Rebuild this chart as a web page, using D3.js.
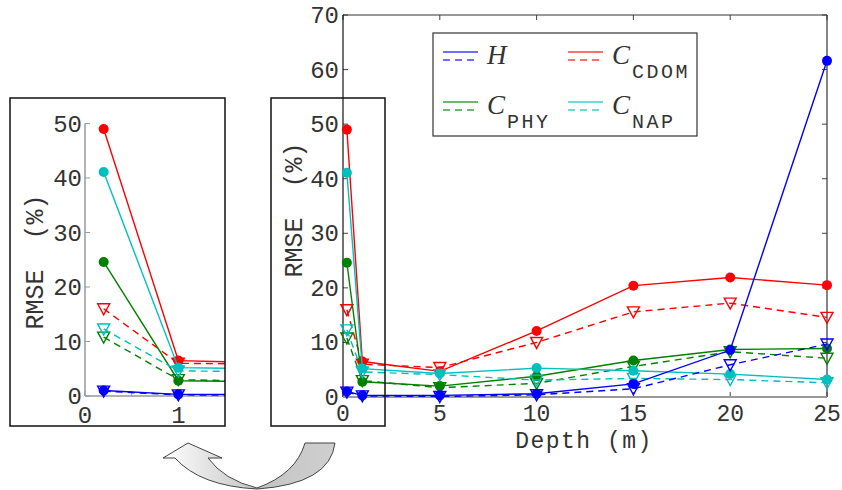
<!DOCTYPE html>
<html>
<head>
<meta charset="utf-8">
<script src="https://cdn.jsdelivr.net/npm/d3@7"></script>
<style>
  body { margin: 0; background: #fff; }
  svg { display: block; }
  text { font-family: "Liberation Mono", "DejaVu Sans Mono", monospace; fill: #333; }
</style>
</head>
<body>
<svg id="chart" width="842" height="490"></svg>
<script>
// depths (m)
const depths = [0.2, 1, 5, 10, 15, 20, 25];

// RMSE (%) per parameter, solid = filled circles, dashed = open triangles
const hSolid = [1.0, 0.3, 0.3, 0.6, 2.4, 8.6, 61.6];
const hDashed = [0.9, 0.2, 0.1, 0.4, 1.5, 5.9, 9.7];
const cdomSolid = [49.0, 6.5, 4.7, 12.1, 20.4, 21.9, 20.5];
const cdomDashed = [16.0, 6.0, 5.4, 10.0, 15.6, 17.2, 14.6];
const phySolid = [24.6, 2.8, 2.0, 3.8, 6.7, 8.7, 8.9];
const phyDashed = [10.8, 3.0, 1.7, 2.5, 5.6, 8.3, 7.1];
const napSolid = [41.1, 5.2, 4.3, 5.3, 4.8, 4.2, 3.2];
const napDashed = [12.3, 4.6, 4.1, 3.1, 3.4, 3.2, 2.6];

const xTicks = [0, 5, 10, 15, 20, 25];
const yTicks = [0, 10, 20, 30, 40, 50, 60, 70];
const insetYTicks = [0, 10, 20, 30, 40, 50];
const insetXTicks = [0, 0.5, 1];

const colors = { H: "#0000ff", CDOM: "#ff0000", PHY: "#008000", NAP: "#00bfbf" };

// drawing order: red, green, cyan, blue on top
const series = [
  { key: "CDOM", solid: cdomSolid, dashed: cdomDashed },
  { key: "PHY", solid: phySolid, dashed: phyDashed },
  { key: "NAP", solid: napSolid, dashed: napDashed },
  { key: "H", solid: hSolid, dashed: hDashed }
];

const svg = d3.select("#chart");

// gradient for the curved arrow
const defs = svg.append("defs");
const grad = defs.append("linearGradient").attr("id", "arrowGrad")
  .attr("x1", "0%").attr("x2", "100%").attr("y1", "0%").attr("y2", "0%");
grad.append("stop").attr("offset", "0%").attr("stop-color", "#ffffff");
grad.append("stop").attr("offset", "55%").attr("stop-color", "#c4c4c4");
grad.append("stop").attr("offset", "100%").attr("stop-color", "#cfcfcf");

const triPath = "M-6,-5L6,-5L0,6Z";

function drawSeries(g, x, y) {
  series.forEach(s => {
    const col = colors[s.key];
    const line = d3.line().x((d, i) => x(depths[i])).y(d => y(d));
    g.append("path").datum(s.dashed)
      .attr("d", line).attr("fill", "none").attr("stroke", col)
      .attr("stroke-width", 1.4).attr("stroke-dasharray", "7,5");
    g.append("path").datum(s.solid)
      .attr("d", line).attr("fill", "none").attr("stroke", col)
      .attr("stroke-width", 1.4);
    g.selectAll(null).data(s.dashed).enter().append("path")
      .attr("d", triPath)
      .attr("transform", (d, i) => `translate(${x(depths[i])},${y(d)})`)
      .attr("fill", "none").attr("stroke", col).attr("stroke-width", 1.4);
    g.selectAll(null).data(s.solid).enter().append("circle")
      .attr("cx", (d, i) => x(depths[i])).attr("cy", d => y(d))
      .attr("r", 5).attr("fill", col);
  });
}

// ---------- main axes ----------
const x = d3.scaleLinear().domain([0, 25]).range([343, 827]);
const y = d3.scaleLinear().domain([0, 70]).range([397, 15]);

const main = svg.append("g");
// tick marks (inward) on all four sides
main.selectAll(".tb").data(xTicks).enter().append("line")
  .attr("x1", d => x(d)).attr("x2", d => x(d)).attr("y1", y(0)).attr("y2", y(0) - 5)
  .attr("stroke", "#444");
main.selectAll(".tt").data(xTicks).enter().append("line")
  .attr("x1", d => x(d)).attr("x2", d => x(d)).attr("y1", y(70)).attr("y2", y(70) + 5)
  .attr("stroke", "#444");
main.selectAll(".tl").data(yTicks).enter().append("line")
  .attr("x1", x(0)).attr("x2", x(0) + 5).attr("y1", d => y(d)).attr("y2", d => y(d))
  .attr("stroke", "#444");
main.selectAll(".tr").data(yTicks).enter().append("line")
  .attr("x1", x(25)).attr("x2", x(25) - 5).attr("y1", d => y(d)).attr("y2", d => y(d))
  .attr("stroke", "#444");

main.append("line").attr("x1", x(0)).attr("x2", x(25)).attr("y1", y(70)).attr("y2", y(70))
  .attr("stroke", "#333").attr("stroke-width", 1.2);
main.append("line").attr("x1", x(25)).attr("x2", x(25)).attr("y1", y(70)).attr("y2", y(0))
  .attr("stroke", "#333").attr("stroke-width", 1.2);
main.append("line").attr("x1", x(0)).attr("x2", x(0)).attr("y1", y(70)).attr("y2", y(0))
  .attr("stroke", "#111").attr("stroke-width", 1.2);
main.append("line").attr("x1", x(0)).attr("x2", x(25)).attr("y1", y(0)).attr("y2", y(0))
  .attr("stroke", "#999").attr("stroke-width", 2);

main.selectAll(".yl").data(yTicks).enter().append("text")
  .attr("x", x(0) - 4).attr("y", d => y(d) + 8)
  .attr("text-anchor", "end").attr("font-size", 24).text(d => d);
main.selectAll(".xl").data(xTicks).enter().append("text")
  .attr("x", d => x(d)).attr("y", y(0) + 24)
  .attr("text-anchor", "middle").attr("font-size", 23).text(d => d);

main.append("text").attr("x", 584).attr("y", 448).attr("text-anchor", "middle")
  .attr("font-size", 23).attr("letter-spacing", 1.5).text("Depth (m)");
main.append("text").attr("transform", "translate(302,210) rotate(-90)")
  .attr("text-anchor", "middle").attr("font-size", 25).attr("xml:space", "preserve")
  .text("RMSE  (%)");

drawSeries(main.append("g"), x, y);

// ---------- legend ----------
const leg = svg.append("g");
leg.append("rect").attr("x", 433).attr("y", 33).attr("width", 264).attr("height", 103)
  .attr("fill", "#fff").attr("stroke", "#333").attr("stroke-width", 1.2);
const legItems = [
  { key: "H", lx: 443, ly: 52, sub: "" },
  { key: "CDOM", lx: 568, ly: 52, sub: "CDOM" },
  { key: "PHY", lx: 443, ly: 102, sub: "PHY" },
  { key: "NAP", lx: 568, ly: 102, sub: "NAP" }
];
legItems.forEach(it => {
  leg.append("line").attr("x1", it.lx).attr("x2", it.lx + 35).attr("y1", it.ly).attr("y2", it.ly)
    .attr("stroke", colors[it.key]).attr("stroke-width", 1.6).attr("opacity", 0.75);
  leg.append("line").attr("x1", it.lx).attr("x2", it.lx + 35).attr("y1", it.ly + 8).attr("y2", it.ly + 8)
    .attr("stroke", colors[it.key]).attr("stroke-width", 1.6).attr("opacity", 0.75)
    .attr("stroke-dasharray", "7,5");
  leg.append("text").attr("x", it.lx + 44).attr("y", it.ly + 12)
    .style("font-family", "'Liberation Serif', 'DejaVu Serif', serif").style("font-style", "italic")
    .attr("font-size", 27).text(it.key === "H" ? "H" : "C");
  if (it.sub) {
    leg.append("text").attr("x", it.lx + 64).attr("y", it.ly + 26)
      .attr("font-size", 20).attr("letter-spacing", 2.5).text(it.sub);
  }
});

// ---------- box around the zoomed region in the main chart ----------
svg.append("rect").attr("x", 271).attr("y", 98).attr("width", 114).attr("height", 328)
  .attr("fill", "none").attr("stroke", "#111").attr("stroke-width", 1.5);

// ---------- inset ----------
const xi = d3.scaleLinear().domain([0, 1.5]).range([85, 225]);
const yi = d3.scaleLinear().domain([0, 50]).range([396, 123.5]);

const inset = svg.append("g");
defs.append("clipPath").attr("id", "insetClip").append("rect")
  .attr("x", 60).attr("y", 98).attr("width", 165).attr("height", 328);

inset.append("line").attr("x1", xi(0)).attr("x2", xi(0)).attr("y1", yi(50)).attr("y2", yi(0))
  .attr("stroke", "#999").attr("stroke-width", 1.5);
inset.append("line").attr("x1", xi(0)).attr("x2", xi(1.5)).attr("y1", yi(0)).attr("y2", yi(0))
  .attr("stroke", "#999").attr("stroke-width", 1.5);
inset.selectAll(".il").data(insetYTicks).enter().append("line")
  .attr("x1", xi(0)).attr("x2", xi(0) + 5).attr("y1", d => yi(d)).attr("y2", d => yi(d))
  .attr("stroke", "#999");
inset.selectAll(".ib").data(insetXTicks).enter().append("line")
  .attr("x1", d => xi(d)).attr("x2", d => xi(d)).attr("y1", yi(0)).attr("y2", yi(0) - 5)
  .attr("stroke", "#999");
inset.selectAll(".iyl").data(insetYTicks).enter().append("text")
  .attr("x", xi(0) - 3).attr("y", d => yi(d) + 8)
  .attr("text-anchor", "end").attr("font-size", 24).text(d => d);
inset.selectAll(".ixl").data(insetXTicks.filter(d => Number.isInteger(d))).enter().append("text")
  .attr("x", d => xi(d)).attr("y", yi(0) + 27)
  .attr("text-anchor", "middle").attr("font-size", 24).text(d => d);
inset.append("text").attr("transform", "translate(43,262) rotate(-90)")
  .attr("text-anchor", "middle").attr("font-size", 25).attr("xml:space", "preserve")
  .text("RMSE  (%)");

drawSeries(inset.append("g").attr("clip-path", "url(#insetClip)"), xi, yi);

svg.append("rect").attr("x", 10).attr("y", 98).attr("width", 215).attr("height", 328)
  .attr("fill", "none").attr("stroke", "#111").attr("stroke-width", 1.5);

// ---------- curved arrow ----------
svg.append("path")
  .attr("d", "M188,443 L222,458 L208,458 Q224,480 257,488 Q296,474 305,443 L335,443 Q330,484 257,489 Q200,486 175,458 L163,458 Z")
  .attr("fill", "url(#arrowGrad)").attr("stroke", "#444").attr("stroke-width", 1);
</script>
</body>
</html>
